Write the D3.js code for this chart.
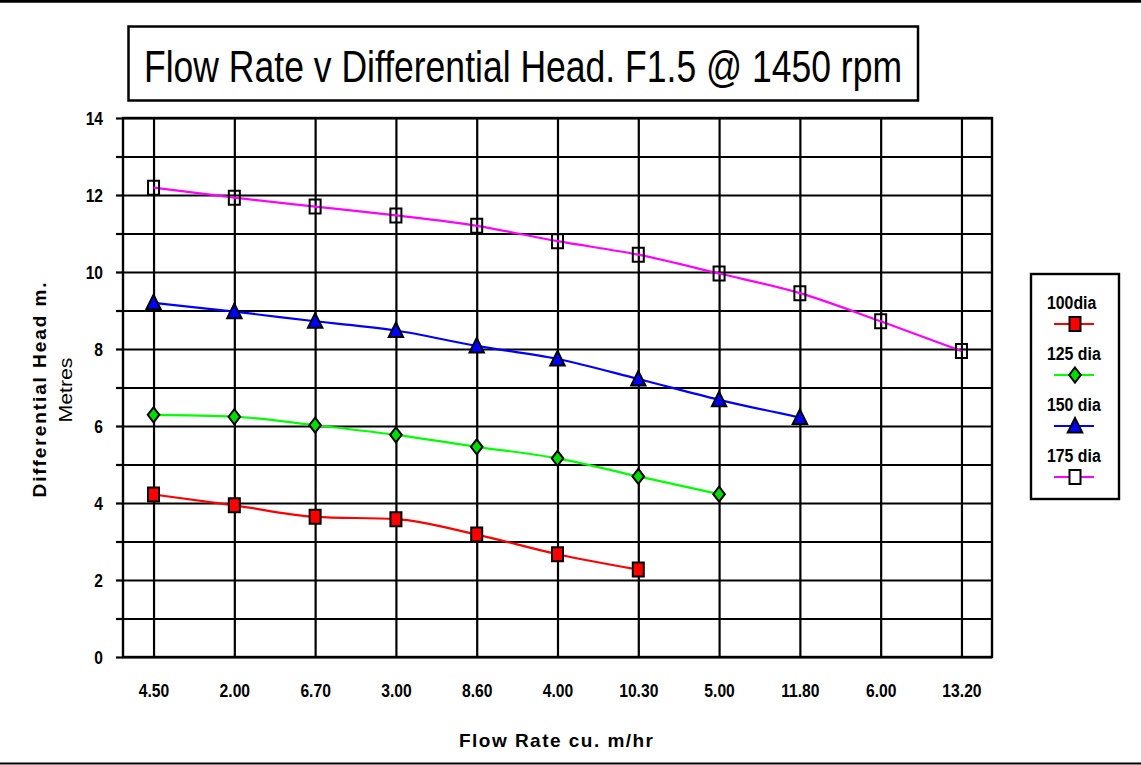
<!DOCTYPE html>
<html>
<head>
<meta charset="utf-8">
<script src="https://cdn.jsdelivr.net/npm/d3@7"></script>
<style>
  body { margin: 0; background: #fff; }
  text { font-family: "Liberation Sans", Arial, sans-serif; }
</style>
</head>
<body>
<svg id="chart" width="1141" height="765"></svg>
<script>
// categories on the x axis (Excel category axis, labels as printed)
const flowRates = ['4.50', '2.00', '6.70', '3.00', '8.60', '4.00', '10.30', '5.00', '11.80', '6.00', '13.20'];

// differential head in metres, one array per impeller diameter
const head100 = [4.22, 3.94, 3.64, 3.58, 3.18, 2.67, 2.27];
const head125 = [6.29, 6.24, 6.02, 5.77, 5.46, 5.16, 4.69, 4.23];
const head150 = [9.20, 8.97, 8.72, 8.48, 8.08, 7.74, 7.22, 6.68, 6.22];
const head175 = [12.19, 11.93, 11.70, 11.47, 11.20, 10.80, 10.45, 9.96, 9.45, 8.72, 7.95];

const seriesNames = ['100dia', '125 dia', '150 dia', '175 dia'];
const yTicks = d3.range(0, 15);

const svg = d3.select('#chart');
const W = 1141, H = 765;
const margin = { top: 118, right: 149, bottom: 108, left: 123 };
const graphWidth = W - margin.left - margin.right;
const graphHeight = H - margin.top - margin.bottom;

svg.append('rect').attr('width', W).attr('height', H).attr('fill', '#fff');

// squeeze Arial-like glyphs to look like Arial Narrow
function narrow(sel, k) {
  sel.each(function () {
    const n = this.getComputedTextLength();
    if (n > 0) d3.select(this).attr('textLength', n * k).attr('lengthAdjust', 'spacingAndGlyphs');
  });
}

// page rules top and bottom
svg.append('line').attr('x1', 0).attr('x2', W).attr('y1', 1.2).attr('y2', 1.2)
  .attr('stroke', '#000').attr('stroke-width', 3);
svg.append('line').attr('x1', 0).attr('x2', W).attr('y1', 763.5).attr('y2', 763.5)
  .attr('stroke', '#000').attr('stroke-width', 2);

// title box
svg.append('rect').attr('x', 128.5).attr('y', 26.5).attr('width', 789.5).attr('height', 74)
  .attr('fill', '#fff').attr('stroke', '#000').attr('stroke-width', 2.5);
svg.append('text').attr('x', 523).attr('y', 81.5).attr('text-anchor', 'middle')
  .attr('font-size', 45).attr('textLength', 758).attr('lengthAdjust', 'spacingAndGlyphs')
  .text('Flow Rate v Differential Head. F1.5 @ 1450 rpm');

const graph = svg.append('g').attr('transform', `translate(${margin.left}, ${margin.top})`);

const x = d3.scalePoint().domain(flowRates).range([0, graphWidth]).padding(0.378);
const y = d3.scaleLinear().domain([0, 14]).range([graphHeight, 0]);

// horizontal gridlines
graph.append('g')
  .call(d3.axisLeft(y).tickValues(yTicks).tickSize(-graphWidth).tickFormat(''))
  .call(g => g.select('.domain').remove())
  .selectAll('line').attr('stroke', '#000').attr('stroke-width', 2.2);

// vertical gridlines
graph.append('g').attr('transform', `translate(0, ${graphHeight})`)
  .call(d3.axisBottom(x).tickSize(graphHeight).tickFormat(''))
  .call(g => g.select('.domain').remove())
  .selectAll('line').attr('y1', -graphHeight).attr('y2', 0)
  .attr('stroke', '#000').attr('stroke-width', 2.2);

// plot frame
graph.append('rect').attr('width', graphWidth).attr('height', graphHeight)
  .attr('fill', 'none').attr('stroke', '#000').attr('stroke-width', 2.4);

// y axis: outer ticks every unit, labels on even values
const yAxisGroup = graph.append('g')
  .call(d3.axisLeft(y).tickValues(yTicks).tickSize(7).tickPadding(13)
    .tickFormat(d => d % 2 === 0 ? d : ''));
yAxisGroup.select('.domain').remove();
yAxisGroup.selectAll('line').attr('stroke', '#000').attr('stroke-width', 2.2);
yAxisGroup.selectAll('text').attr('font-size', 19).attr('font-weight', 'bold')
  .attr('fill', '#000').attr('font-family', '"Liberation Sans", Arial, sans-serif')
  .attr('dy', '0.36em').call(narrow, 0.82);

// x axis labels
const xAxisGroup = graph.append('g').attr('transform', `translate(0, ${graphHeight})`)
  .call(d3.axisBottom(x).tickSize(0).tickPadding(27));
xAxisGroup.select('.domain').remove();
xAxisGroup.selectAll('text').attr('font-size', 18).attr('font-weight', 'bold')
  .attr('fill', '#000').attr('font-family', '"Liberation Sans", Arial, sans-serif')
  .call(narrow, 0.87);

// axis titles
svg.append('text').attr('x', 556).attr('y', 747).attr('text-anchor', 'middle')
  .attr('font-size', 19).attr('font-weight', 'bold')
  .attr('textLength', 194).attr('lengthAdjust', 'spacing')
  .text('Flow Rate cu. m/hr');
svg.append('text').attr('transform', 'translate(46, 390) rotate(-90)').attr('text-anchor', 'middle')
  .attr('font-size', 19).attr('font-weight', 'bold')
  .attr('textLength', 215).attr('lengthAdjust', 'spacing')
  .text('Differential Head m.');
svg.append('text').attr('transform', 'translate(71.5, 390) rotate(-90)').attr('text-anchor', 'middle')
  .attr('font-size', 18.5)
  .attr('textLength', 65).attr('lengthAdjust', 'spacingAndGlyphs')
  .text('Metres');

// marker shapes
const shapes = {
  square: 'M-5.5,-7H5.5V7H-5.5Z',
  diamond: 'M0,-7.5L5.8,0L0,7.5L-5.8,0Z',
  triangle: 'M0,-8L7.2,6.5H-7.2Z'
};

const series = [
  { name: seriesNames[0], values: head100, color: '#ff0000', shape: 'square', fill: '#ff0000' },
  { name: seriesNames[1], values: head125, color: '#00ff00', shape: 'diamond', fill: '#00e000' },
  { name: seriesNames[2], values: head150, color: '#0000ff', shape: 'triangle', fill: '#0000ff' },
  { name: seriesNames[3], values: head175, color: '#ff00ff', shape: 'square', fill: 'none' }
];

const line = d3.line()
  .x((d, i) => x(flowRates[i]))
  .y(d => y(d))
  .curve(d3.curveMonotoneX);

series.forEach(s => {
  graph.append('path').datum(s.values)
    .attr('d', line)
    .attr('fill', 'none')
    .attr('stroke', s.color)
    .attr('stroke-width', 2.2);

  graph.selectAll(null).data(s.values).enter()
    .append('path')
    .attr('d', shapes[s.shape])
    .attr('transform', (d, i) => `translate(${x(flowRates[i])}, ${y(d)})`)
    .attr('fill', s.fill)
    .attr('stroke', '#000')
    .attr('stroke-width', 2);
});

// legend
const legend = svg.append('g');
legend.append('rect').attr('x', 1031).attr('y', 274).attr('width', 88).attr('height', 225)
  .attr('fill', '#fff').attr('stroke', '#000').attr('stroke-width', 2.4);

const items = legend.selectAll('g.item').data(series).enter()
  .append('g').attr('class', 'item')
  .attr('transform', (d, i) => `translate(0, ${324 + i * 51})`);

items.append('text').attr('x', 1047).attr('y', -15.5)
  .attr('font-size', 18).attr('font-weight', 'bold')
  .text(d => d.name)
  .call(narrow, 0.88);
items.append('line').attr('x1', 1054).attr('x2', 1094)
  .attr('stroke', d => d.color).attr('stroke-width', 2.2);
items.append('path').attr('d', d => shapes[d.shape])
  .attr('transform', 'translate(1075, 0)')
  .attr('fill', d => d.fill === 'none' ? '#fff' : d.fill)
  .attr('stroke', '#000').attr('stroke-width', 2);
</script>
</body>
</html>
